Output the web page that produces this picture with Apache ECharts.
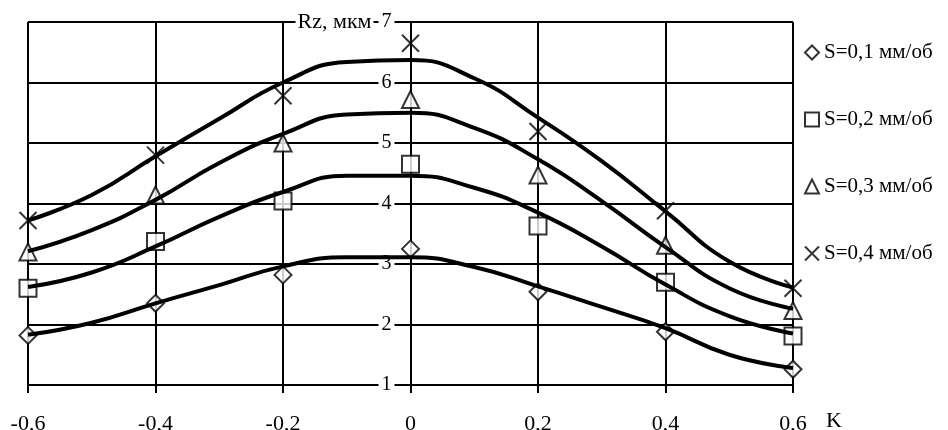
<!DOCTYPE html>
<html>
<head>
<meta charset="utf-8">
<script src="https://cdn.jsdelivr.net/npm/echarts@6/dist/echarts.min.js"></script>
<style>
  html, body { margin: 0; padding: 0; background: #fff; }
  #chart { width: 948px; height: 430px; }
</style>
</head>
<body>
<div id="chart"></div>
<script>
// опытные точки
var kPoints = [-0.6, -0.4, -0.2, 0, 0.2, 0.4, 0.6];
var rzS01 = [1.82, 2.35, 2.82, 3.25, 2.54, 1.88, 1.26];
var rzS02 = [2.60, 3.37, 4.04, 4.65, 3.63, 2.70, 1.81];
var rzS03 = [3.20, 4.14, 5.00, 5.72, 4.47, 3.31, 2.23];
var rzS04 = [3.72, 4.80, 5.78, 6.65, 5.19, 3.88, 2.60];

// аппроксимирующие кривые
var kCurve = [-0.6, -0.5, -0.4, -0.3, -0.2, -0.1, 0, 0.1, 0.2, 0.3, 0.4, 0.5, 0.6];
var fitS01 = [1.83, 2.03, 2.35, 2.65, 2.96, 3.11, 3.11, 2.95, 2.63, 2.29, 1.94, 1.50, 1.28];
var fitS02 = [2.62, 2.86, 3.29, 3.78, 4.19, 4.46, 4.46, 4.26, 3.85, 3.29, 2.66, 2.14, 1.85];
var fitS03 = [3.21, 3.56, 4.06, 4.67, 5.15, 5.47, 5.50, 5.25, 4.73, 4.04, 3.28, 2.60, 2.26];
var fitS04 = [3.72, 4.14, 4.78, 5.40, 6.00, 6.34, 6.37, 6.07, 5.42, 4.70, 3.87, 3.04, 2.61];

var names = ['S=0,1 мм/об', 'S=0,2 мм/об', 'S=0,3 мм/об', 'S=0,4 мм/об'];
var symbols = ['diamond', 'rect', 'triangle', 'path://M0,0L10,10M10,0L0,10'];

var FONT = 'Liberation Serif';
var GRID_L = 28, GRID_R = 155;

function pairs(xs, ys){
    var out = [];
    for(var i = 0; i < xs.length; i++){
        out.push([xs[i], ys[i]]);
    }
    return out;
}

var chart = echarts.init(document.getElementById('chart'));
// ось Y проходит через K=0 (середина сетки)
var yOffset = -(948 - GRID_L - GRID_R) / 2;

var points = [rzS01, rzS02, rzS03, rzS04];
var fits = [fitS01, fitS02, fitS03, fitS04];
var series = [];
for(var i = 0; i < 4; i++){
    series.push({
        name: names[i],
        type: 'scatter',
        symbol: symbols[i],
        symbolSize: 17,
        z: 4,
        itemStyle: { color: '#fff', borderColor: '#000', borderWidth: 2 },
        data: pairs(kPoints, points[i])
    });
}
for(var j = 0; j < 4; j++){
    series.push({
        name: 'fit' + j,
        type: 'line',
        smooth: 0.5,
        showSymbol: false,
        silent: true,
        z: 5,
        lineStyle: { color: '#000', width: 4 },
        data: pairs(kCurve, fits[j])
    });
}

var option = {
    backgroundColor: '#fff',
    animation: false,
    grid: { left: GRID_L, right: GRID_R, top: 22, bottom: 45, outerBoundsMode: 'none', containLabel: false },
    legend: {
        orient: 'vertical',
        left: 799,
        top: 37,
        itemWidth: 14,
        itemHeight: 14,
        itemGap: 46,
        data: names,
        textStyle: { fontFamily: FONT, fontSize: 21, color: '#000' },
        itemStyle: { borderWidth: 2 }
    },
    xAxis: {
        type: 'value',
        min: -0.6,
        max: 0.6,
        interval: 0.2,
        name: 'K',
        nameLocation: 'end',
        nameGap: 33,
        nameTextStyle: { fontFamily: FONT, fontSize: 22, color: '#000', verticalAlign: 'top', align: 'left', padding: [25, 0, 0, 0] },
        axisLine: { onZero: false, lineStyle: { color: '#000', width: 2 } },
        axisTick: { length: 8, lineStyle: { color: '#000', width: 2 } },
        axisLabel: {
            margin: 28,
            fontFamily: FONT,
            fontSize: 22,
            color: '#000',
            formatter: function(v){
                if(Math.abs(v) < 1e-9) return '0';
                return v.toFixed(1).replace('.', ',');
            }
        },
        splitLine: { show: true, lineStyle: { color: '#000', width: 2 } }
    },
    yAxis: [{
        // только горизонтальная сетка
        type: 'value',
        min: 1,
        max: 7,
        interval: 1,
        position: 'left',
        z: 0,
        axisLine: { show: false, onZero: false },
        axisTick: { show: false },
        axisLabel: { show: false },
        splitLine: { show: true, lineStyle: { color: '#000', width: 2 } }
    }, {
        type: 'value',
        min: 1,
        max: 7,
        interval: 1,
        position: 'left',
        offset: yOffset,
        z: 1,
        axisLine: { show: true, onZero: false, lineStyle: { color: '#000', width: 2 } },
        axisTick: { show: true, length: 6, lineStyle: { color: '#000', width: 2 } },
        axisLabel: {
            margin: 16,
            color: '#000',
            formatter: function(v){
                if(v === 7) return '{n|Rz, мкм}{g| }{v|7}';
                return '{v|' + v + '}';
            },
            rich: {
                v: { fontFamily: FONT, fontSize: 20, color: '#000', backgroundColor: '#fff', padding: [0, 3, 0, 3] },
                n: { fontFamily: FONT, fontSize: 22, color: '#000', backgroundColor: '#fff', padding: [0, 2, 0, 2] },
                g: { fontFamily: FONT, fontSize: 20, width: 5 }
            }
        },
        splitLine: { show: false }
    }],
    series: series
};
chart.setOption(option);
</script>
</body>
</html>
